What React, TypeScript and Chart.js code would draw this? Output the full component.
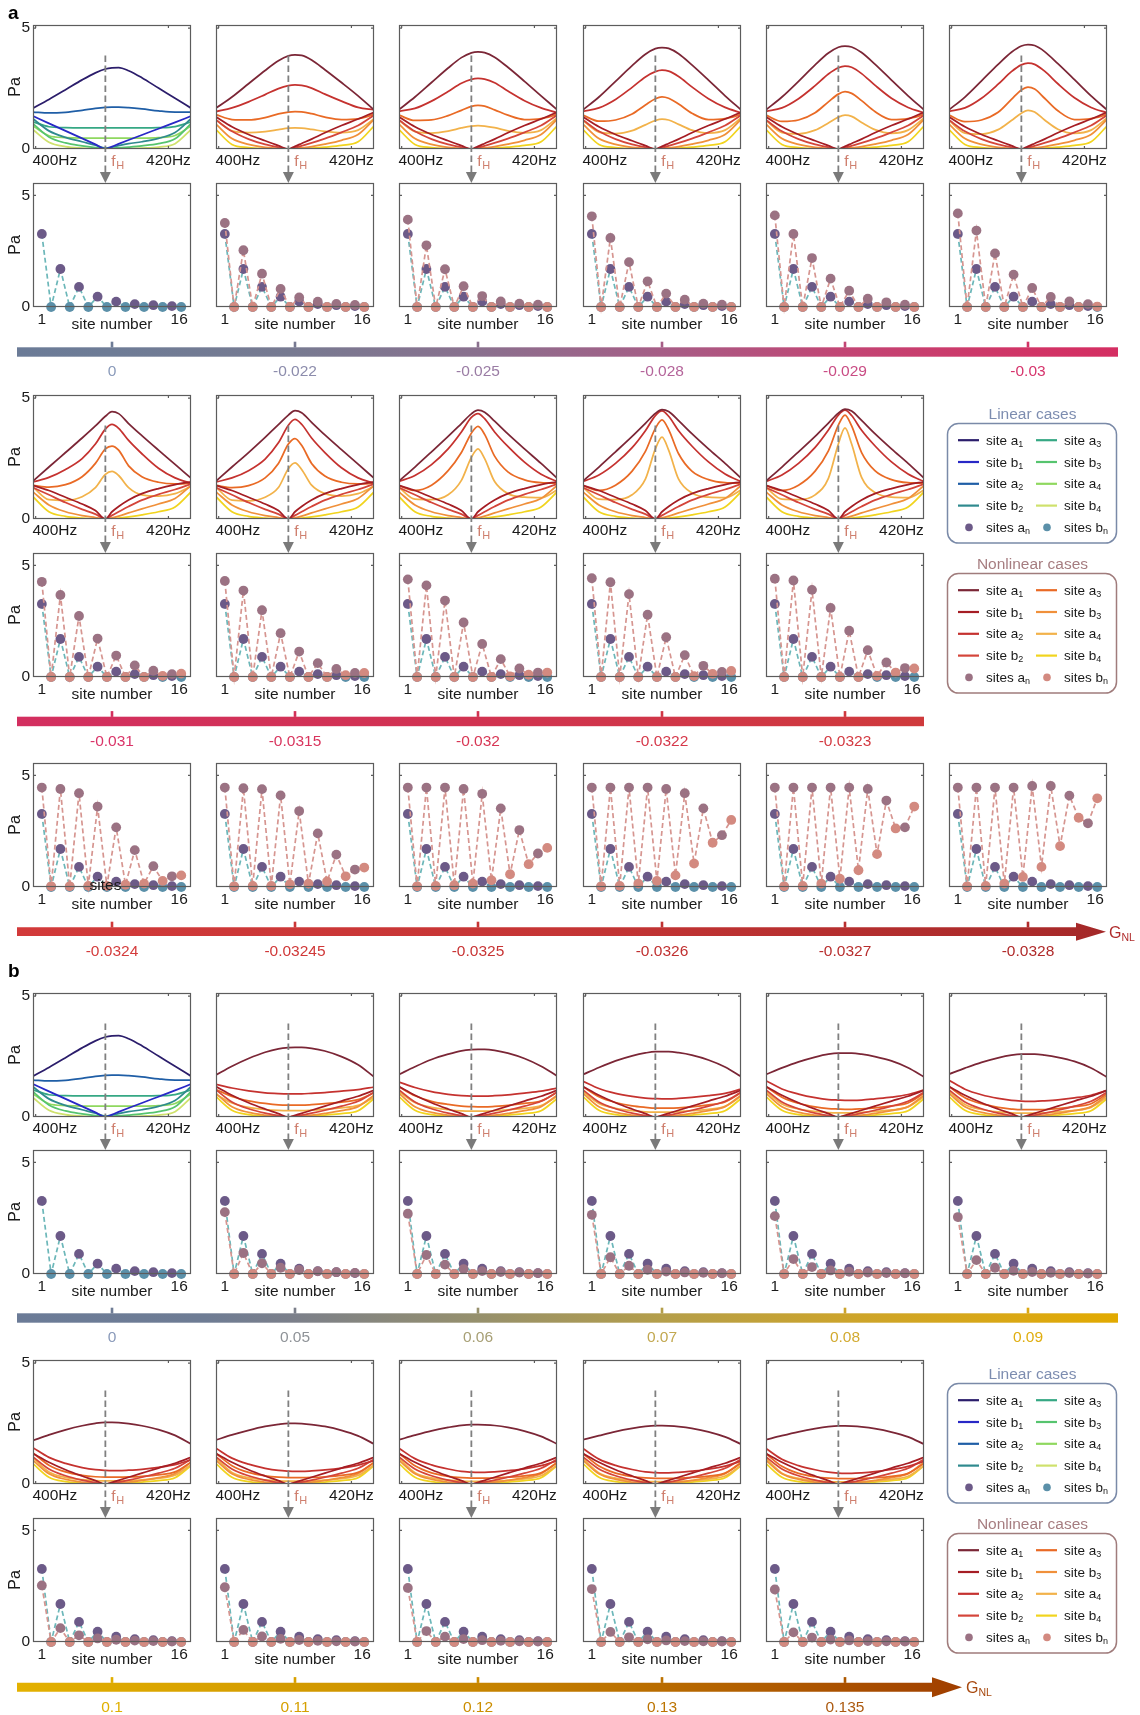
import React, { useEffect, useRef } from "react";
import { Chart, registerables } from "chart.js";
Chart.register(...registerables);

const FONT = "'Liberation Sans', Arial, Helvetica, sans-serif";

// ---------------- data ----------------
const FX = [399.6, 402, 404.5, 407, 409, 410.5, 411.5, 412.5, 414, 416, 418.5, 421, 423.4];
const F_H = 410.5;
const DASH_TOP = 3.87;
const HZ_TICKS = [400, 420];
const Y_TICKS = [0, 5];
const SITES = [1, 2, 3, 4, 5, 6, 7, 8, 9, 10, 11, 12, 13, 14, 15, 16];

// linear case (G = 0): a1..a4 and b1..b4
const FA_LIN = [
  [1.69, 2.05, 2.45, 2.86, 3.15, 3.31, 3.36, 3.37, 3.24, 2.95, 2.52, 2.1, 1.69],
  [1.53, 1.49, 1.52, 1.6, 1.68, 1.72, 1.73, 1.73, 1.71, 1.66, 1.58, 1.53, 1.53],
  [1.12, 0.92, 0.88, 0.87, 0.87, 0.87, 0.87, 0.87, 0.87, 0.87, 0.88, 0.93, 1.12],
  [0.95, 0.55, 0.47, 0.45, 0.45, 0.45, 0.45, 0.45, 0.45, 0.45, 0.47, 0.56, 0.95],
];
const FB_LIN = [
  [1.36, 1.06, 0.75, 0.44, 0.19, 0.0, 0.1, 0.21, 0.37, 0.58, 0.84, 1.1, 1.36],
  [1.25, 0.75, 0.48, 0.3, 0.16, 0.04, 0.08, 0.14, 0.22, 0.3, 0.44, 0.68, 1.25],
  [1.05, 0.5, 0.25, 0.13, 0.06, 0.02, 0.03, 0.05, 0.08, 0.13, 0.22, 0.42, 1.05],
  [0.8, 0.28, 0.1, 0.04, 0.02, 0.01, 0.01, 0.01, 0.02, 0.04, 0.08, 0.22, 0.8],
];

// panel a, first row (G = -0.022 ... -0.03)
const FA_M022 = [
  [1.69, 2.15, 2.7, 3.25, 3.65, 3.85, 3.89, 3.87, 3.68, 3.28, 2.75, 2.2, 1.62],
  [1.55, 1.7, 1.95, 2.25, 2.5, 2.62, 2.65, 2.63, 2.52, 2.27, 1.98, 1.72, 1.62],
  [1.42, 1.22, 1.2, 1.3, 1.45, 1.53, 1.55, 1.54, 1.46, 1.32, 1.22, 1.25, 1.42],
  [1.2, 0.75, 0.68, 0.72, 0.8, 0.86, 0.87, 0.86, 0.81, 0.73, 0.68, 0.78, 1.25],
];
const FA_M025 = [
  [1.63, 2.15, 2.75, 3.35, 3.78, 3.98, 4.02, 3.99, 3.8, 3.38, 2.8, 2.2, 1.63],
  [1.56, 1.68, 1.98, 2.38, 2.72, 2.88, 2.92, 2.89, 2.74, 2.4, 2.0, 1.7, 1.5],
  [1.4, 1.18, 1.2, 1.38, 1.6, 1.76, 1.8, 1.77, 1.62, 1.4, 1.22, 1.26, 1.42],
  [1.18, 0.72, 0.66, 0.74, 0.87, 0.95, 0.97, 0.95, 0.88, 0.75, 0.67, 0.78, 1.28],
];
const FA_M028 = [
  [1.62, 2.15, 2.8, 3.45, 3.92, 4.15, 4.19, 4.16, 3.94, 3.48, 2.85, 2.2, 1.62],
  [1.56, 1.7, 2.05, 2.55, 2.98, 3.2, 3.26, 3.22, 3.0, 2.57, 2.08, 1.72, 1.5],
  [1.4, 1.15, 1.2, 1.45, 1.82, 2.08, 2.16, 2.1, 1.86, 1.48, 1.22, 1.26, 1.42],
  [1.18, 0.7, 0.64, 0.76, 1.0, 1.18, 1.24, 1.2, 1.02, 0.78, 0.66, 0.78, 1.28],
];
const FA_M029 = [
  [1.62, 2.15, 2.8, 3.48, 3.97, 4.21, 4.26, 4.22, 3.99, 3.51, 2.85, 2.2, 1.62],
  [1.56, 1.7, 2.08, 2.62, 3.1, 3.36, 3.43, 3.38, 3.12, 2.64, 2.1, 1.72, 1.5],
  [1.4, 1.14, 1.2, 1.5, 1.95, 2.27, 2.37, 2.3, 2.0, 1.55, 1.22, 1.26, 1.42],
  [1.18, 0.68, 0.63, 0.78, 1.08, 1.32, 1.4, 1.35, 1.1, 0.8, 0.65, 0.78, 1.28],
];
const FA_M030 = [
  [1.62, 2.15, 2.82, 3.5, 4.0, 4.26, 4.32, 4.28, 4.03, 3.53, 2.87, 2.2, 1.62],
  [1.56, 1.7, 2.1, 2.68, 3.2, 3.48, 3.55, 3.5, 3.22, 2.7, 2.12, 1.72, 1.5],
  [1.4, 1.13, 1.2, 1.52, 2.05, 2.44, 2.56, 2.48, 2.1, 1.58, 1.22, 1.26, 1.42],
  [1.18, 0.66, 0.62, 0.8, 1.18, 1.48, 1.6, 1.53, 1.2, 0.82, 0.65, 0.78, 1.28],
];
const FB_R1 = [
  [1.33, 0.92, 0.6, 0.34, 0.14, 0.0, 0.11, 0.23, 0.41, 0.67, 0.97, 1.24, 1.52],
  [1.2, 0.73, 0.41, 0.19, 0.07, 0.0, 0.06, 0.13, 0.25, 0.43, 0.69, 0.97, 1.4],
  [1.03, 0.43, 0.19, 0.07, 0.03, 0.0, 0.02, 0.05, 0.1, 0.2, 0.36, 0.6, 1.22],
  [0.8, 0.19, 0.06, 0.02, 0.01, 0.0, 0.01, 0.02, 0.04, 0.08, 0.15, 0.3, 0.95],
];

// panel a, second row (G = -0.031 ... -0.0323)
const FA_M031 = [
  [1.57, 2.15, 2.75, 3.35, 3.85, 4.25, 4.44, 4.36, 3.95, 3.45, 2.85, 2.26, 1.69],
  [1.53, 1.72, 2.05, 2.5, 3.1, 3.72, 3.91, 3.75, 3.25, 2.7, 2.1, 1.7, 1.48],
  [1.39, 1.32, 1.42, 1.75, 2.3, 2.9, 3.02, 2.85, 2.2, 1.75, 1.52, 1.45, 1.48],
  [1.32, 0.8, 0.77, 0.92, 1.3, 1.85, 1.97, 1.8, 1.3, 1.0, 0.95, 1.05, 1.35],
];
const FA_M0315 = [
  [1.57, 2.15, 2.75, 3.38, 3.9, 4.3, 4.48, 4.4, 4.0, 3.48, 2.87, 2.27, 1.69],
  [1.53, 1.7, 2.0, 2.48, 3.15, 3.88, 4.12, 3.92, 3.35, 2.75, 2.12, 1.7, 1.48],
  [1.39, 1.3, 1.38, 1.7, 2.3, 3.1, 3.33, 3.05, 2.3, 1.78, 1.52, 1.45, 1.48],
  [1.32, 0.78, 0.75, 0.9, 1.3, 2.08, 2.32, 2.05, 1.4, 1.05, 0.95, 1.05, 1.35],
];
const FA_M032 = [
  [1.57, 2.15, 2.78, 3.42, 3.95, 4.35, 4.5, 4.42, 4.05, 3.52, 2.9, 2.3, 1.69],
  [1.55, 1.8, 2.25, 2.9, 3.6, 4.2, 4.36, 4.15, 3.6, 3.0, 2.35, 1.85, 1.55],
  [1.38, 1.18, 1.4, 2.0, 2.75, 3.55, 3.83, 3.5, 2.6, 1.95, 1.62, 1.5, 1.48],
  [1.31, 0.82, 0.8, 1.0, 1.6, 2.55, 2.9, 2.5, 1.55, 1.05, 0.9, 0.88, 1.2],
];
const FA_M0322 = [
  [1.57, 2.15, 2.78, 3.42, 3.96, 4.37, 4.53, 4.45, 4.07, 3.53, 2.9, 2.3, 1.69],
  [1.55, 1.82, 2.3, 2.95, 3.65, 4.28, 4.47, 4.25, 3.65, 3.02, 2.36, 1.86, 1.55],
  [1.38, 1.18, 1.4, 1.98, 2.8, 3.75, 4.1, 3.7, 2.7, 1.98, 1.63, 1.5, 1.48],
  [1.31, 0.82, 0.8, 1.0, 1.65, 2.9, 3.39, 2.85, 1.65, 1.08, 0.9, 0.88, 1.2],
];
const FA_M0323 = [
  [1.57, 2.15, 2.78, 3.42, 3.97, 4.38, 4.55, 4.47, 4.08, 3.53, 2.9, 2.3, 1.69],
  [1.55, 1.82, 2.3, 2.96, 3.68, 4.3, 4.5, 4.28, 3.67, 3.03, 2.36, 1.86, 1.55],
  [1.38, 1.18, 1.4, 1.98, 2.82, 3.88, 4.3, 3.85, 2.75, 2.0, 1.63, 1.5, 1.48],
  [1.31, 0.82, 0.8, 1.0, 1.68, 3.1, 3.77, 3.1, 1.72, 1.1, 0.9, 0.88, 1.2],
];
const FB_R2 = [
  [1.39, 1.18, 0.9, 0.62, 0.35, 0.0, 0.3, 0.52, 0.79, 1.05, 1.26, 1.42, 1.54],
  [1.3, 1.0, 0.68, 0.4, 0.2, 0.0, 0.15, 0.3, 0.52, 0.78, 1.02, 1.22, 1.45],
  [1.12, 0.58, 0.3, 0.14, 0.06, 0.0, 0.05, 0.12, 0.25, 0.42, 0.62, 0.85, 1.38],
  [0.92, 0.3, 0.11, 0.04, 0.01, 0.0, 0.02, 0.04, 0.09, 0.17, 0.3, 0.5, 1.12],
];

// panel b (G = 0.05 ... 0.135)
const FA_P05 = [
  [1.74, 2.1, 2.42, 2.68, 2.82, 2.87, 2.88, 2.88, 2.84, 2.73, 2.5, 2.16, 1.66],
  [1.35, 1.2, 1.08, 1.0, 0.97, 0.96, 0.96, 0.96, 0.98, 1.01, 1.07, 1.13, 1.24],
  [1.14, 0.85, 0.67, 0.56, 0.5, 0.49, 0.49, 0.49, 0.51, 0.55, 0.62, 0.72, 1.0],
  [0.93, 0.58, 0.4, 0.31, 0.27, 0.26, 0.26, 0.26, 0.28, 0.32, 0.38, 0.48, 0.82],
];
const FA_P06 = [
  [1.76, 2.08, 2.38, 2.6, 2.74, 2.79, 2.8, 2.8, 2.76, 2.64, 2.42, 2.1, 1.7],
  [1.45, 1.22, 1.05, 0.94, 0.88, 0.86, 0.86, 0.86, 0.88, 0.92, 0.99, 1.07, 1.2],
  [1.25, 0.88, 0.65, 0.52, 0.45, 0.43, 0.42, 0.42, 0.44, 0.48, 0.56, 0.67, 1.02],
  [1.05, 0.6, 0.4, 0.3, 0.25, 0.24, 0.24, 0.24, 0.26, 0.3, 0.36, 0.47, 0.85],
];
const FA_P07 = [
  [1.76, 2.05, 2.32, 2.53, 2.65, 2.7, 2.7, 2.7, 2.66, 2.56, 2.36, 2.07, 1.68],
  [1.48, 1.18, 0.98, 0.85, 0.78, 0.76, 0.75, 0.75, 0.77, 0.81, 0.88, 0.98, 1.15],
  [1.25, 0.84, 0.6, 0.46, 0.4, 0.37, 0.37, 0.37, 0.38, 0.42, 0.5, 0.62, 1.0],
  [1.05, 0.56, 0.36, 0.26, 0.21, 0.2, 0.2, 0.2, 0.22, 0.26, 0.32, 0.44, 0.85],
];
const FA_P08 = [
  [1.76, 2.03, 2.28, 2.48, 2.6, 2.64, 2.64, 2.64, 2.6, 2.5, 2.32, 2.04, 1.66],
  [1.5, 1.16, 0.95, 0.8, 0.72, 0.7, 0.69, 0.69, 0.7, 0.75, 0.82, 0.93, 1.12],
  [1.26, 0.82, 0.57, 0.42, 0.35, 0.33, 0.32, 0.32, 0.34, 0.38, 0.46, 0.58, 0.98],
  [1.06, 0.54, 0.33, 0.23, 0.18, 0.17, 0.17, 0.17, 0.19, 0.23, 0.29, 0.42, 0.84],
];
const FA_P09 = [
  [1.77, 2.02, 2.26, 2.45, 2.56, 2.6, 2.6, 2.6, 2.56, 2.47, 2.3, 2.03, 1.65],
  [1.52, 1.15, 0.92, 0.77, 0.69, 0.66, 0.65, 0.65, 0.67, 0.71, 0.79, 0.9, 1.1],
  [1.26, 0.8, 0.55, 0.4, 0.33, 0.3, 0.3, 0.3, 0.31, 0.35, 0.43, 0.55, 0.96],
  [1.06, 0.52, 0.31, 0.21, 0.17, 0.16, 0.16, 0.16, 0.17, 0.21, 0.27, 0.4, 0.82],
];
const FA_P10 = [
  [1.8, 2.03, 2.24, 2.41, 2.51, 2.55, 2.55, 2.54, 2.5, 2.41, 2.25, 2.01, 1.66],
  [1.5, 1.1, 0.85, 0.68, 0.59, 0.56, 0.55, 0.55, 0.57, 0.61, 0.69, 0.8, 1.0],
  [1.28, 0.78, 0.5, 0.36, 0.3, 0.28, 0.28, 0.28, 0.29, 0.32, 0.38, 0.5, 0.9],
  [1.08, 0.5, 0.27, 0.18, 0.14, 0.13, 0.13, 0.13, 0.14, 0.17, 0.23, 0.36, 0.8],
];
const FA_P11 = [
  [1.82, 2.03, 2.22, 2.38, 2.47, 2.51, 2.51, 2.5, 2.46, 2.38, 2.22, 1.99, 1.66],
  [1.48, 1.07, 0.82, 0.65, 0.56, 0.53, 0.52, 0.52, 0.54, 0.58, 0.66, 0.78, 0.97],
  [1.27, 0.76, 0.48, 0.34, 0.28, 0.26, 0.26, 0.26, 0.27, 0.3, 0.36, 0.48, 0.88],
  [1.07, 0.48, 0.26, 0.17, 0.13, 0.12, 0.12, 0.12, 0.13, 0.16, 0.22, 0.35, 0.79],
];
const FA_P12 = [
  [1.83, 2.02, 2.2, 2.34, 2.43, 2.46, 2.46, 2.45, 2.42, 2.34, 2.19, 1.97, 1.66],
  [1.48, 1.05, 0.79, 0.62, 0.52, 0.49, 0.48, 0.48, 0.5, 0.55, 0.63, 0.76, 0.96],
  [1.27, 0.75, 0.46, 0.32, 0.26, 0.24, 0.24, 0.24, 0.25, 0.28, 0.34, 0.46, 0.87],
  [1.07, 0.47, 0.25, 0.16, 0.12, 0.11, 0.11, 0.11, 0.12, 0.15, 0.21, 0.34, 0.78],
];
const FA_P13 = [
  [1.83, 2.0, 2.17, 2.3, 2.38, 2.41, 2.41, 2.4, 2.37, 2.3, 2.16, 1.95, 1.65],
  [1.47, 1.03, 0.77, 0.6, 0.5, 0.47, 0.46, 0.46, 0.48, 0.53, 0.61, 0.74, 0.95],
  [1.26, 0.74, 0.45, 0.31, 0.25, 0.23, 0.23, 0.23, 0.24, 0.27, 0.33, 0.45, 0.86],
  [1.06, 0.46, 0.24, 0.15, 0.11, 0.1, 0.1, 0.1, 0.11, 0.14, 0.2, 0.33, 0.77],
];
const FA_P135 = [
  [1.83, 2.0, 2.16, 2.29, 2.37, 2.4, 2.4, 2.39, 2.36, 2.29, 2.15, 1.95, 1.65],
  [1.47, 1.02, 0.76, 0.59, 0.49, 0.45, 0.44, 0.44, 0.46, 0.51, 0.6, 0.73, 0.94],
  [1.26, 0.73, 0.44, 0.3, 0.24, 0.22, 0.22, 0.22, 0.23, 0.26, 0.32, 0.44, 0.85],
  [1.06, 0.45, 0.23, 0.14, 0.1, 0.09, 0.09, 0.09, 0.1, 0.13, 0.19, 0.32, 0.76],
];
const FB_R3 = [
  [1.26, 0.9, 0.59, 0.33, 0.14, 0.0, 0.07, 0.15, 0.28, 0.45, 0.66, 0.86, 1.1],
  [1.12, 0.62, 0.34, 0.16, 0.06, 0.0, 0.04, 0.08, 0.16, 0.28, 0.45, 0.65, 1.02],
  [0.98, 0.42, 0.19, 0.08, 0.03, 0.0, 0.02, 0.04, 0.08, 0.15, 0.26, 0.43, 0.9],
  [0.84, 0.28, 0.1, 0.04, 0.01, 0.0, 0.01, 0.02, 0.04, 0.08, 0.14, 0.26, 0.76],
];

// site amplitudes at f_H (site 1..16: a1, b1, a2, b2, ...)
const S_LIN = [3.27, 0, 1.7, 0, 0.9, 0, 0.46, 0, 0.24, 0, 0.13, 0, 0.08, 0, 0.04, 0];
const S_M022 = [3.76, 0, 2.54, 0, 1.49, 0, 0.81, 0, 0.43, 0, 0.24, 0, 0.14, 0, 0.09, 0];
const S_M025 = [3.91, 0, 2.76, 0, 1.69, 0, 0.93, 0, 0.49, 0, 0.25, 0, 0.15, 0, 0.1, 0];
const S_M028 = [4.06, 0, 3.09, 0, 2.01, 0, 1.15, 0, 0.6, 0, 0.33, 0, 0.15, 0, 0.1, 0];
const S_M029 = [4.1, 0, 3.27, 0, 2.19, 0, 1.27, 0, 0.73, 0, 0.37, 0, 0.21, 0, 0.1, 0];
const S_M030 = [4.19, 0, 3.42, 0, 2.4, 0, 1.45, 0, 0.85, 0, 0.45, 0, 0.25, 0, 0.13, 0.02];
const S_M031 = [4.26, 0, 3.67, 0, 2.73, 0, 1.72, 0, 0.96, 0, 0.52, 0, 0.28, 0.05, 0.13, 0.15];
const S_M0315 = [4.3, 0, 3.87, 0, 2.99, 0, 1.96, 0, 1.14, 0, 0.62, 0, 0.36, 0.08, 0.18, 0.18];
const S_M032 = [4.37, 0, 4.1, 0, 3.42, 0, 2.44, 0, 1.48, 0, 0.8, 0.03, 0.38, 0.1, 0.2, 0.2];
const S_M0322 = [4.42, 0, 4.24, 0, 3.71, 0, 2.79, 0, 1.78, 0, 0.98, 0.04, 0.5, 0.14, 0.23, 0.27];
const S_M0323 = [4.4, 0, 4.32, 0, 3.9, 0, 3.09, 0, 2.07, 0, 1.2, 0.05, 0.65, 0.2, 0.4, 0.38];
const S_M0324 = [4.45, 0.03, 4.39, 0.03, 4.2, 0.05, 3.6, 0.05, 2.67, 0.1, 1.65, 0.15, 0.93, 0.27, 0.48, 0.52];
const S_M03245 = [4.45, 0.03, 4.42, 0.05, 4.38, 0.05, 4.1, 0.12, 3.4, 0.15, 2.4, 0.25, 1.45, 0.48, 0.78, 0.87];
const S_M0325 = [4.45, 0.03, 4.45, 0.05, 4.45, 0.08, 4.39, 0.15, 4.17, 0.3, 3.52, 0.57, 2.55, 1.02, 1.5, 1.75];
const S_M0326 = [4.45, 0.03, 4.45, 0.05, 4.45, 0.15, 4.45, 0.27, 4.39, 0.52, 4.2, 1.05, 3.52, 1.98, 2.32, 3.0];
const S_M0327 = [4.45, 0.03, 4.45, 0.05, 4.45, 0.15, 4.45, 0.37, 4.45, 0.75, 4.39, 1.47, 3.87, 2.62, 2.67, 3.6];
const S_M0328 = [4.45, 0.03, 4.45, 0.05, 4.45, 0.15, 4.45, 0.45, 4.52, 0.9, 4.52, 1.83, 4.09, 3.1, 2.85, 3.97];
const S_P05 = [2.77, 0, 0.94, 0, 0.48, 0, 0.28, 0, 0.18, 0, 0.12, 0, 0.08, 0, 0.05, 0];
const S_P06 = [2.7, 0, 0.85, 0, 0.42, 0, 0.22, 0, 0.13, 0, 0.09, 0, 0.06, 0, 0.04, 0];
const S_P07 = [2.65, 0, 0.75, 0, 0.37, 0, 0.19, 0, 0.11, 0, 0.07, 0, 0.05, 0, 0.03, 0];
const S_P08 = [2.59, 0, 0.67, 0, 0.31, 0, 0.16, 0, 0.1, 0, 0.06, 0, 0.04, 0, 0.03, 0];
const S_P09 = [2.55, 0, 0.62, 0, 0.28, 0, 0.14, 0, 0.09, 0, 0.05, 0, 0.04, 0, 0.02, 0];
const S_P10 = [2.53, 0, 0.62, 0, 0.3, 0, 0.16, 0, 0.1, 0, 0.06, 0, 0.04, 0, 0.02, 0];
const S_P11 = [2.45, 0, 0.54, 0, 0.25, 0, 0.14, 0, 0.09, 0, 0.05, 0, 0.03, 0, 0.02, 0];
const S_P12 = [2.42, 0, 0.49, 0, 0.24, 0, 0.13, 0, 0.08, 0, 0.05, 0, 0.03, 0, 0.02, 0];
const S_P13 = [2.37, 0, 0.45, 0, 0.21, 0, 0.12, 0, 0.07, 0, 0.04, 0, 0.03, 0, 0.02, 0];
const S_P135 = [2.35, 0, 0.43, 0, 0.2, 0, 0.11, 0, 0.07, 0, 0.04, 0, 0.03, 0, 0.02, 0];

// gain labels
const BAR_A1_LABELS = ["0", "-0.022", "-0.025", "-0.028", "-0.029", "-0.03"];
const BAR_A2_LABELS = ["-0.031", "-0.0315", "-0.032", "-0.0322", "-0.0323"];
const BAR_A3_LABELS = ["-0.0324", "-0.03245", "-0.0325", "-0.0326", "-0.0327", "-0.0328"];
const BAR_B1_LABELS = ["0", "0.05", "0.06", "0.07", "0.08", "0.09"];
const BAR_B2_LABELS = ["0.1", "0.11", "0.12", "0.13", "0.135"];

// ---------------- styles ----------------
const LIN_COLORS = ["#2b1d6b", "#2828c6", "#1f5ea6", "#2f8a8e", "#36a884", "#56c46e", "#8fd85f", "#cfe16c"];
const NL_COLORS = ["#7b2636", "#a51d24", "#c5322f", "#d4453a", "#e96a25", "#f0903a", "#f2b24a", "#f1d41e"];
const LIN_LINE = "#6cb7b9";
const NL_LINE = "#d69590";
const LIN_DOT_A = "#6c5a88";
const LIN_DOT_B = "#5b90a9";
const NL_DOT_A = "#9b7283";
const NL_DOT_B = "#d38a80";

const COL_X = [33, 216, 399, 583, 766, 949];
const PW = 158;
const PH = 124;
const L = 33;
const T = 8;
const R = 14;
const CW = L + PW + R;
const SITE_B = 30;

type FreqPanel = { a: number[][]; b: number[][]; lin: boolean };
type Row =
  | { kind: "freq"; top: number; gap: number; panels: FreqPanel[] }
  | { kind: "site"; top: number; panels: (number[] | null)[] };

const ROWS: Row[] = [
  { kind: "freq", top: 25, gap: 34, panels: [
    { a: FA_LIN, b: FB_LIN, lin: true }, { a: FA_M022, b: FB_R1, lin: false }, { a: FA_M025, b: FB_R1, lin: false },
    { a: FA_M028, b: FB_R1, lin: false }, { a: FA_M029, b: FB_R1, lin: false }, { a: FA_M030, b: FB_R1, lin: false } ] },
  { kind: "site", top: 183, panels: [null, S_M022, S_M025, S_M028, S_M029, S_M030] },
  { kind: "freq", top: 395, gap: 34, panels: [
    { a: FA_M031, b: FB_R2, lin: false }, { a: FA_M0315, b: FB_R2, lin: false }, { a: FA_M032, b: FB_R2, lin: false },
    { a: FA_M0322, b: FB_R2, lin: false }, { a: FA_M0323, b: FB_R2, lin: false } ] },
  { kind: "site", top: 553, panels: [S_M031, S_M0315, S_M032, S_M0322, S_M0323] },
  { kind: "site", top: 763, panels: [S_M0324, S_M03245, S_M0325, S_M0326, S_M0327, S_M0328] },
  { kind: "freq", top: 993, gap: 33, panels: [
    { a: FA_LIN, b: FB_LIN, lin: true }, { a: FA_P05, b: FB_R3, lin: false }, { a: FA_P06, b: FB_R3, lin: false },
    { a: FA_P07, b: FB_R3, lin: false }, { a: FA_P08, b: FB_R3, lin: false }, { a: FA_P09, b: FB_R3, lin: false } ] },
  { kind: "site", top: 1150, panels: [null, S_P05, S_P06, S_P07, S_P08, S_P09] },
  { kind: "freq", top: 1360, gap: 34, panels: [
    { a: FA_P10, b: FB_R3, lin: false }, { a: FA_P11, b: FB_R3, lin: false }, { a: FA_P12, b: FB_R3, lin: false },
    { a: FA_P13, b: FB_R3, lin: false }, { a: FA_P135, b: FB_R3, lin: false } ] },
  { kind: "site", top: 1518, panels: [S_P10, S_P11, S_P12, S_P13, S_P135] },
];

// ---------------- chart builders ----------------
function yScale(max: number, showY: boolean) {
  return {
    type: "linear", position: "left", min: 0, max,
    afterBuildTicks: (s: any) => { s.ticks = Y_TICKS.map((v) => ({ value: v })); },
    afterFit: (s: any) => { s.width = L; s.paddingTop = 0; s.paddingBottom = 0; s.paddingLeft = 0; s.paddingRight = 0; },
    grid: { display: false, drawTicks: false },
    border: { display: false },
    ticks: { display: showY, color: "#1a1a1a", padding: 3, font: { family: FONT, size: 15.5 } },
    title: { display: showY, text: "Pa", color: "#1a1a1a", font: { family: FONT, size: 16 }, padding: { top: 6, bottom: 0 } },
  };
}

function frameDraw(chart: any, freq: boolean) {
  const { ctx, chartArea: a, scales } = chart;
  ctx.save();
  ctx.strokeStyle = "#5c5c5c";
  ctx.lineWidth = 1.2;
  ctx.strokeRect(a.left + 0.5, a.top + 0.5, a.right - a.left - 1, a.bottom - a.top - 1);
  ctx.beginPath();
  const y5 = scales.y.getPixelForValue(5);
  ctx.moveTo(a.left, y5); ctx.lineTo(a.left + 3, y5);
  ctx.moveTo(a.right, y5); ctx.lineTo(a.right - 3, y5);
  if (freq) {
    for (const v of HZ_TICKS) {
      const px = scales.x.getPixelForValue(v);
      ctx.moveTo(px, a.top); ctx.lineTo(px, a.top + 3);
      ctx.moveTo(px, a.bottom); ctx.lineTo(px, a.bottom - 3);
    }
  }
  ctx.stroke();
  ctx.restore();
}

function freqConfig(p: FreqPanel, showY: boolean, gap: number) {
  const colors = p.lin ? LIN_COLORS : NL_COLORS;
  const ordered = [p.a[0], p.b[0], p.a[1], p.b[1], p.a[2], p.b[2], p.a[3], p.b[3]];
  const deco = {
    id: "freqDeco",
    afterDraw(chart: any) {
      const { ctx, chartArea: a, scales } = chart;
      frameDraw(chart, true);
      const px = scales.x.getPixelForValue(F_H);
      const tip = a.bottom + gap;
      ctx.save();
      ctx.strokeStyle = "#808080";
      ctx.lineWidth = 1.8;
      ctx.setLineDash([6.5, 3.5]);
      ctx.beginPath();
      ctx.moveTo(px, scales.y.getPixelForValue(DASH_TOP));
      ctx.lineTo(px, tip - 10);
      ctx.stroke();
      ctx.setLineDash([]);
      ctx.fillStyle = "#7a7a7a";
      ctx.beginPath();
      ctx.moveTo(px - 5.5, tip - 11);
      ctx.lineTo(px + 5.5, tip - 11);
      ctx.lineTo(px, tip);
      ctx.closePath();
      ctx.fill();
      ctx.fillStyle = "#1a1a1a";
      ctx.font = `15.5px ${FONT}`;
      ctx.textBaseline = "middle";
      ctx.textAlign = "left";
      ctx.fillText("400Hz", a.left - 0.5, a.bottom + 12);
      ctx.textAlign = "center";
      ctx.fillText("420Hz", scales.x.getPixelForValue(420), a.bottom + 12);
      ctx.textAlign = "left";
      ctx.fillStyle = "#cf7f6e";
      ctx.fillText("f", px + 6, a.bottom + 13);
      const fw = ctx.measureText("f").width;
      ctx.font = `11px ${FONT}`;
      ctx.fillText("H", px + 6 + fw + 0.5, a.bottom + 17);
      ctx.restore();
    },
  };
  return {
    type: "line",
    data: {
      datasets: ordered.map((ys, i) => ({
        data: FX.map((x, j) => ({ x, y: ys[j] })),
        borderColor: colors[i], borderWidth: 1.75, pointRadius: 0, fill: false,
        cubicInterpolationMode: "monotone",
      })),
    },
    options: {
      animation: false, responsive: false, events: [],
      layout: { padding: { left: 0, top: T, right: R, bottom: gap } },
      plugins: { legend: { display: false }, tooltip: { enabled: false } },
      scales: { x: { type: "linear", display: false, min: 399.6, max: 423.4 }, y: yScale(5.13, showY) },
    },
    plugins: [deco],
  };
}

function siteConfig(nl: number[] | null, showY: boolean, extraText: boolean) {
  const mk = (vals: number[], line: string, ca: string, cb: string) => ({
    data: SITES.map((s, i) => ({ x: s, y: vals[i] })),
    borderColor: line, borderWidth: 1.7, borderDash: [5, 3],
    pointRadius: 4.9, pointHoverRadius: 4.9, pointBorderWidth: 0, pointBorderColor: "rgba(0,0,0,0)",
    pointBackgroundColor: SITES.map((s) => (s % 2 === 1 ? ca : cb)),
    tension: 0, fill: false, clip: false,
  });
  const datasets: any[] = [];
  if (nl) datasets.push(mk(nl, NL_LINE, NL_DOT_A, NL_DOT_B));
  datasets.push(mk(S_LIN, LIN_LINE, LIN_DOT_A, LIN_DOT_B));
  const deco = {
    id: "siteDeco",
    afterDraw(chart: any) {
      const { ctx, chartArea: a, scales } = chart;
      frameDraw(chart, false);
      ctx.save();
      ctx.fillStyle = "#1a1a1a";
      ctx.font = `15.5px ${FONT}`;
      ctx.textBaseline = "middle";
      ctx.textAlign = "center";
      ctx.fillText("1", scales.x.getPixelForValue(1), a.bottom + 13);
      ctx.fillText("16", scales.x.getPixelForValue(16) - 2, a.bottom + 13);
      ctx.fillText("site number", (a.left + a.right) / 2, a.bottom + 18);
      if (extraText) ctx.fillText("sites", 105.5, a.bottom - 1.5);
      ctx.restore();
    },
  };
  return {
    type: "line",
    data: { datasets },
    options: {
      animation: false, responsive: false, events: [],
      layout: { padding: { left: 0, top: T, right: R, bottom: SITE_B } },
      plugins: { legend: { display: false }, tooltip: { enabled: false } },
      scales: { x: { type: "linear", display: false, min: 0.05, max: 17.05 }, y: yScale(5.55, showY) },
    },
    plugins: [deco],
  };
}

function Panel(props: { left: number; top: number; width: number; height: number; make: () => any }) {
  const ref = useRef<HTMLCanvasElement>(null);
  useEffect(() => {
    const c = new Chart(ref.current as HTMLCanvasElement, props.make());
    return () => c.destroy();
  }, []);
  return (
    <canvas
      ref={ref}
      width={props.width}
      height={props.height}
      style={{ position: "absolute", left: props.left, top: props.top, width: props.width, height: props.height }}
    />
  );
}

// ---------------- overlay (bars, legends) ----------------
const center = (i: number) => COL_X[i] + PW / 2;

function Bar(props: { y: number; h: number; x1: number; x2: number; grad: string; labels: string[]; tickColors: string[]; labelColors: string[]; arrow?: { head: number; tip: number; hy1: number; hy2: number } }) {
  const { y, h, x1, x2, grad, labels, tickColors, labelColors, arrow } = props;
  let shape: any;
  if (arrow) {
    const cy = y + h / 2;
    const d = `M${x1},${y} L${arrow.head},${y} L${arrow.head},${arrow.hy1} L${arrow.tip},${cy} L${arrow.head},${arrow.hy2} L${arrow.head},${y + h} L${x1},${y + h} Z`;
    shape = <path d={d} fill={`url(#${grad})`} />;
  } else {
    shape = <rect x={x1} y={y} width={x2 - x1} height={h} fill={`url(#${grad})`} />;
  }
  return (
    <g>
      {shape}
      {labels.map((lab, i) => (
        <g key={i}>
          <rect x={center(i) - 1.3} y={y - 5.6} width={2.6} height={5.8} fill={tickColors[i]} />
          <text x={center(i)} y={y + 23.4} textAnchor="middle" dominantBaseline="central" fontSize={15.5} fill={labelColors[i]}>{lab}</text>
        </g>
      ))}
    </g>
  );
}

function Sub(props: { x: number; y: number; base: string; sub: string; size?: number; subSize?: number; fill: string }) {
  return (
    <text x={props.x} y={props.y} dominantBaseline="central" fontSize={props.size || 13.5} fill={props.fill}>
      {props.base}
      <tspan fontSize={props.subSize || 9} dy={3.5}>{props.sub}</tspan>
    </text>
  );
}

function Legend(props: { titleY: number; title: string; titleColor: string; boxColor: string; colors: string[]; dotA: string; dotB: string }) {
  const { titleY, title, titleColor, boxColor, colors, dotA, dotB } = props;
  const boxTop = titleY + 10.3;
  const rowY = (k: number) => boxTop + 16.6 + 21.8 * k;
  const names = [["a", "1"], ["b", "1"], ["a", "2"], ["b", "2"], ["a", "3"], ["b", "3"], ["a", "4"], ["b", "4"]];
  return (
    <g>
      <text x={1032.5} y={titleY} textAnchor="middle" dominantBaseline="central" fontSize={15.5} fill={titleColor}>{title}</text>
      <rect x={947.5} y={boxTop} width={169} height={119.5} rx={11} fill="#ffffff" stroke={boxColor} strokeWidth={1.5} />
      {names.map((n, i) => {
        const col = i < 4 ? 0 : 1;
        const k = i % 4;
        const lx = col === 0 ? 958 : 1036;
        const tx = col === 0 ? 986 : 1064;
        return (
          <g key={i}>
            <line x1={lx} x2={lx + 21} y1={rowY(k)} y2={rowY(k)} stroke={colors[i]} strokeWidth={2.2} />
            <Sub x={tx} y={rowY(k)} base={`site ${n[0]}`} sub={n[1]} fill="#1a1a1a" />
          </g>
        );
      })}
      <circle cx={969} cy={rowY(4)} r={3.8} fill={dotA} />
      <Sub x={986} y={rowY(4)} base="sites a" sub="n" fill="#1a1a1a" />
      <circle cx={1047} cy={rowY(4)} r={3.8} fill={dotB} />
      <Sub x={1064} y={rowY(4)} base="sites b" sub="n" fill="#1a1a1a" />
    </g>
  );
}

function Grad(props: { id: string; x1: number; x2: number; stops: [number, string][] }) {
  return (
    <linearGradient id={props.id} gradientUnits="userSpaceOnUse" x1={props.x1} x2={props.x2} y1={0} y2={0}>
      {props.stops.map((s, i) => <stop key={i} offset={s[0]} stopColor={s[1]} />)}
    </linearGradient>
  );
}

function Overlay() {
  return (
    <svg width={1140} height={1715} style={{ position: "absolute", left: 0, top: 0, fontFamily: FONT }}>
      <defs>
        <Grad id="gA1" x1={17} x2={1118} stops={[[0, "#6b7b97"], [0.086, "#6e7c96"], [0.25, "#777a91"], [0.42, "#8a708e"], [0.586, "#a65d86"], [0.75, "#c24574"], [0.918, "#d13466"], [1, "#d42e62"]]} />
        <Grad id="gA2" x1={17} x2={924} stops={[[0, "#d32f60"], [0.5, "#d13351"], [1, "#cf3a3c"]]} />
        <Grad id="gA3" x1={17} x2={1106} stops={[[0, "#d23a3a"], [0.5, "#c53535"], [0.95, "#a92a2a"], [1, "#a32828"]]} />
        <Grad id="gB1" x1={17} x2={1118} stops={[[0, "#6b7b97"], [0.17, "#6e7c94"], [0.25, "#7b7f8a"], [0.42, "#96906c"], [0.586, "#b49e4a"], [0.75, "#cca42c"], [0.918, "#dba812"], [1, "#e2aa00"]]} />
        <Grad id="gB2" x1={17} x2={962} stops={[[0, "#e3b100"], [0.35, "#d09600"], [0.65, "#bb7000"], [0.95, "#a44600"], [1, "#a03e00"]]} />
      </defs>
      <text x={8} y={18.5} fontSize={19} fontWeight="bold" fill="#000">a</text>
      <text x={8} y={976.5} fontSize={19} fontWeight="bold" fill="#000">b</text>

      <Bar y={347.3} h={9.4} x1={17} x2={1118} grad="gA1" labels={BAR_A1_LABELS}
        tickColors={["#6e7c96", "#777a91", "#8a708e", "#a65d86", "#c24574", "#d13466"]}
        labelColors={["#8a9aba", "#8c8cac", "#9a7ca4", "#b4649a", "#c94c84", "#d6346c"]} />
      <Bar y={716.7} h={9.5} x1={17} x2={924} grad="gA2" labels={BAR_A2_LABELS}
        tickColors={["#d32f5e", "#d23158", "#d13351", "#d03646", "#cf393e"]}
        labelColors={["#da3468", "#d9355e", "#d83654", "#d6384a", "#d43a42"]} />
      <Bar y={927.3} h={8.7} x1={17} x2={1076} grad="gA3" labels={BAR_A3_LABELS}
        tickColors={["#d03939", "#cb3737", "#c53535", "#bf3232", "#b82f2f", "#b02c2c"]}
        labelColors={["#d43c3c", "#d03838", "#c83434", "#c03030", "#b82e2e", "#b02a2a"]}
        arrow={{ head: 1076, tip: 1106, hy1: 922.7, hy2: 940.7 }} />
      <text x={1109} y={932.5} dominantBaseline="central" fontSize={16} fill="#b02c2c">G<tspan fontSize={10.5} dy={4}>NL</tspan></text>

      <Bar y={1313.3} h={9.4} x1={17} x2={1118} grad="gB1" labels={BAR_B1_LABELS}
        tickColors={["#6e7c95", "#7b7f8a", "#96906c", "#b49e4a", "#cca42c", "#dba812"]}
        labelColors={["#8a9aba", "#8f9398", "#a8a076", "#c2a850", "#d2aa30", "#e0ae10"]} />
      <Bar y={1682.7} h={9} x1={17} x2={932} grad="gB2" labels={BAR_B2_LABELS}
        tickColors={["#e0ae00", "#d8a000", "#cc8c00", "#bc7200", "#ac5800"]}
        labelColors={["#e0b000", "#d6a000", "#cc8e00", "#bc7400", "#ac5a10"]}
        arrow={{ head: 932, tip: 962, hy1: 1677.2, hy2: 1697.2 }} />
      <text x={966} y={1687.5} dominantBaseline="central" fontSize={16} fill="#a84a10">G<tspan fontSize={10.5} dy={4}>NL</tspan></text>

      <Legend titleY={413.3} title="Linear cases" titleColor="#7d8db0" boxColor="#7a8aa8" colors={LIN_COLORS} dotA={LIN_DOT_A} dotB={LIN_DOT_B} />
      <Legend titleY={563.3} title="Nonlinear cases" titleColor="#a67d80" boxColor="#a07c7c" colors={NL_COLORS} dotA={NL_DOT_A} dotB={NL_DOT_B} />
      <Legend titleY={1373.3} title="Linear cases" titleColor="#7d8db0" boxColor="#7a8aa8" colors={LIN_COLORS} dotA={LIN_DOT_A} dotB={LIN_DOT_B} />
      <Legend titleY={1523.3} title="Nonlinear cases" titleColor="#a67d80" boxColor="#a07c7c" colors={NL_COLORS} dotA={NL_DOT_A} dotB={NL_DOT_B} />
    </svg>
  );
}

export default function App() {
  const items: any[] = [];
  ROWS.forEach((row, ri) => {
    row.panels.forEach((p: any, ci: number) => {
      const left = COL_X[ci] - L;
      const top = row.top - T;
      if (row.kind === "freq") {
        const h = T + PH + row.gap;
        items.push(<Panel key={`${ri}-${ci}`} left={left} top={top} width={CW} height={h} make={() => freqConfig(p, ci === 0, row.gap)} />);
      } else {
        const h = T + PH + SITE_B;
        const extra = ri === 4 && ci === 0;
        items.push(<Panel key={`${ri}-${ci}`} left={left} top={top} width={CW} height={h} make={() => siteConfig(p, ci === 0, extra)} />);
      }
    });
  });
  return (
    <div style={{ position: "absolute", left: 0, top: 0, width: 1140, height: 1715, background: "#ffffff", overflow: "hidden" }}>
      {items}
      <Overlay />
    </div>
  );
}
